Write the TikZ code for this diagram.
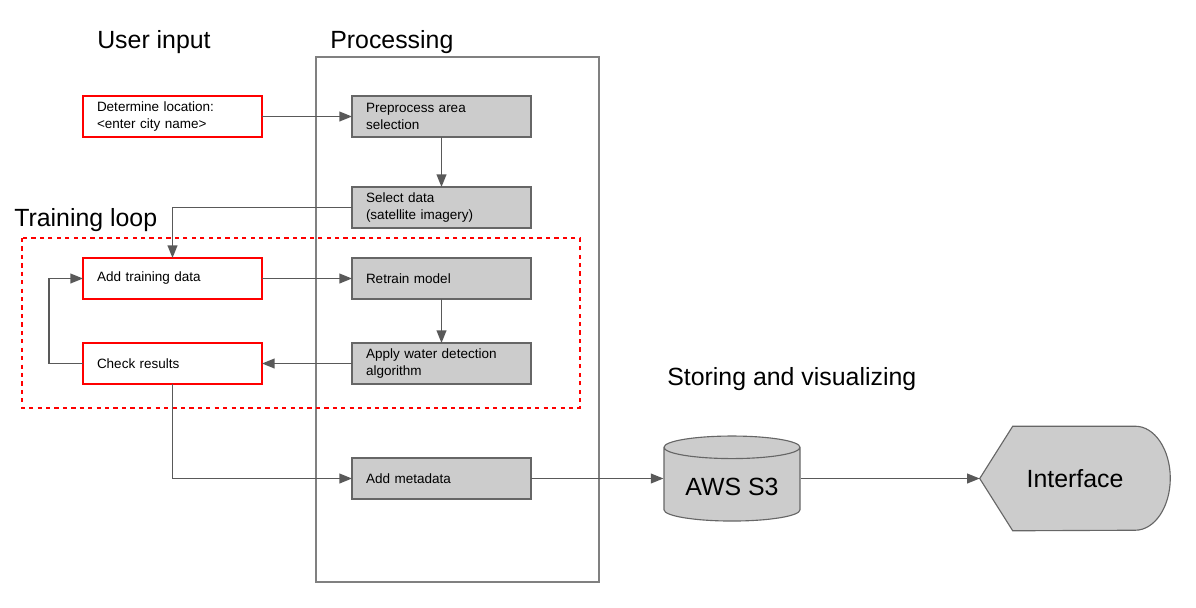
\documentclass[tikz,border=0pt]{standalone}
\usepackage{fontspec}
\setmainfont{Liberation Sans}
\usepackage{tikz}
\usetikzlibrary{positioning,calc,arrows.meta,shapes.geometric}
\definecolor{boxgray}{HTML}{CCCCCC}
\definecolor{linegray}{HTML}{595959}
\definecolor{framegray}{HTML}{666666}
\begin{document}
\begin{tikzpicture}[
		inbox/.style={rectangle,draw=red,line width=0.8pt,fill=white,outer sep=0pt,
			minimum width=4.475cm,minimum height=1.025cm,text width=3.775cm,
			inner xsep=0.35cm,align=left,font=\fontsize{9.6}{12}\selectfont},
		procbox/.style={inbox,draw=framegray,fill=boxgray},
		heading/.style={anchor=west,inner sep=0pt,font=\fontsize{17.7}{20}\selectfont},
		flow/.style={draw=linegray,line width=1pt,-{Triangle[length=9pt,width=7pt]}}
		]
		\useasboundingbox (0,0) rectangle (29.9,-15.175);

		% column frames
		\draw[draw=gray,line width=0.8pt] (7.9,-1.425) rectangle (14.975,-14.55);
		\draw[draw=red,dashed,line width=0.8pt] (0.55,-5.95) rectangle (14.5,-10.2);

		% headings
		\node[heading](Huser) at (2.425,-1.05){User input};
		\node[heading](Hproc) at (8.25,-1.05){Processing};
		\node[heading](Hloop) at (0.35,-5.5){Training loop};
		\node[heading](Hstore) at (16.675,-9.475){Storing and visualizing};

		% user input and processing column
		\node[inbox](loc) at (4.3125,-2.9125){Determine location:\\<enter city name>};
		\node[procbox, right=2.25cm of loc](prep){Preprocess area\\selection};
		\node[procbox, below=1.25cm of prep](sel){Select data\\(satellite imagery)};
		\node[procbox, below=0.75cm of sel](retrain){Retrain model};
		\node[procbox, below=1.1cm of retrain](apply){Apply water detection\\algorithm};
		\node[procbox, below=1.85cm of apply](meta){Add metadata};
		\node[inbox, left=2.25cm of retrain](train){Add training data};
		\node[inbox, left=2.25cm of apply](check){Check results};

		% storage and interface
		\node[cylinder,shape border rotate=90,aspect=0.22,draw=framegray,fill=boxgray,
		line width=0.8pt,minimum width=3.4cm,minimum height=2.125cm,
		font=\fontsize{17.7}{20}\selectfont](s3) at (18.3,-12.1625){AWS S3};
		\node[minimum width=4.75cm,minimum height=2.6cm,inner sep=0pt](iface) at (26.875,-11.9625){};
		\draw[draw=framegray,fill=boxgray,line width=0.8pt] (iface.west)
		-- ($(iface.north west)+(0.825,0)$) -- ($(iface.north east)+(-0.875,0)$)
		arc[start angle=90,end angle=-90,x radius=0.875cm,y radius=1.3cm]
		-- ($(iface.south west)+(0.825,0)$) -- cycle;
		\node[font=\fontsize{17.7}{20}\selectfont] at (iface){Interface};

		% connectors
		\draw[flow] (loc) -- (prep);
		\draw[flow] (prep) -- (sel);
		\draw[flow] (sel.west) -| (train.north);
		\draw[flow] (train) -- (retrain);
		\draw[flow] (retrain) -- (apply);
		\draw[flow] (apply) -- (check);
		\draw[flow] (check.west) -- ++(-0.85,0) |- (train.west);
		\draw[flow] (check.south) |- (meta.west);
		\draw[flow] (meta.east) -- (meta.east -| s3.west);
		\draw[flow] (iface.west -| s3.east) -- (iface.west);
	\end{tikzpicture}
\end{document}
